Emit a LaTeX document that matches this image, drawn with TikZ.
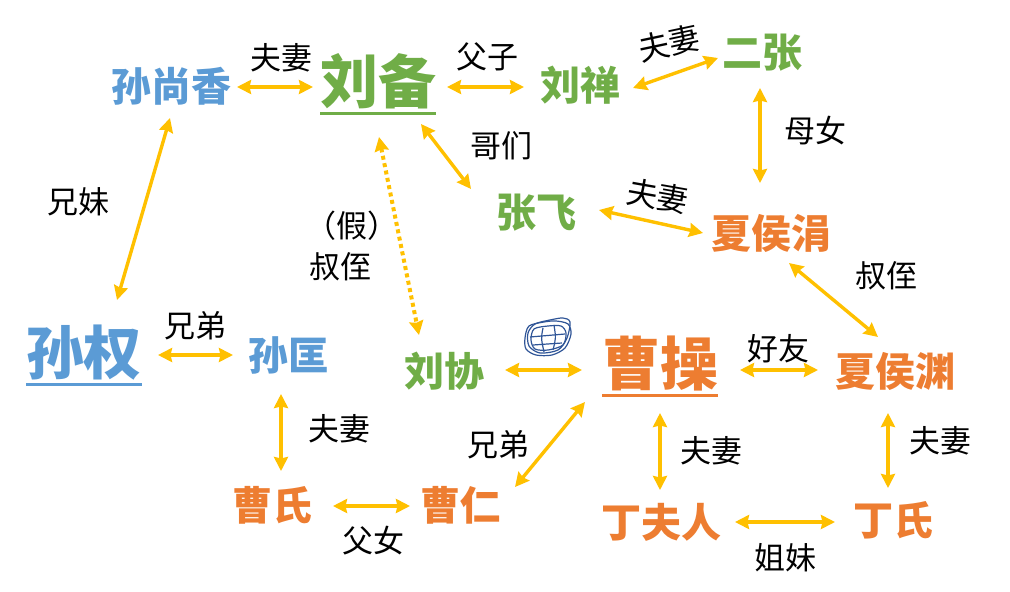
\documentclass[tikz,border=0pt]{standalone}
\usepackage{fontspec}
\usepackage{tikz}
\usetikzlibrary{arrows.meta}
\newfontfamily\cjk{Noto Sans CJK SC}
\definecolor{sun-blue}{HTML}{5B9BD5}
\definecolor{liu-green}{HTML}{70AD47}
\definecolor{cao-orange}{HTML}{ED7D31}
\definecolor{rel-gold}{HTML}{FFC000}
\definecolor{scribble-blue}{HTML}{2F5597}

\begin{document}
\begin{tikzpicture}[x=1pt,y=-1pt,
    person/.style={inner sep=0pt,outer sep=0pt,text height=33pt,text depth=3pt,
        font=\cjk\bfseries\fontsize{40}{40}\selectfont},
    bigperson/.style={person,text height=48pt,text depth=4pt,
        font=\cjk\bfseries\fontsize{58}{58}\selectfont},
    tag/.style={inner sep=0pt,text height=26.5pt,text depth=2.5pt,
        font=\cjk\fontsize{31}{31}\selectfont},
    rel/.style={rel-gold,line width=3.4pt,
        {Stealth[length=14pt,width=14pt,inset=1.5pt]}-{Stealth[length=14pt,width=14pt,inset=1.5pt]}},
    fake/.style={rel,line width=4pt,dash pattern=on 4pt off 3.5pt},
    underline/.style={line width=3pt},
    scribble/.style={scribble-blue,line width=1.2pt}]

    \useasboundingbox (0,0) rectangle (1010,592);

    %--- PEOPLE -----------------------------

    % Sun family
    \node[person,sun-blue] (ssx) at (171,86) {孙尚香};
    \node[bigperson,sun-blue] (sq) at (84,352) {孙权};
    \node[person,sun-blue] (sk) at (288,355) {孙匡};

    % Liu family
    \node[bigperson,liu-green] (lb) at (378,81) {刘备};
    \node[person,liu-green] (lc) at (580,85) {刘禅};
    \node[person,liu-green] (ez) at (762,52) {二张};
    \node[person,liu-green] (zf) at (536,212) {张飞};
    \node[person,liu-green] (lx) at (444,371) {刘协};

    % Cao family
    \node[person,cao-orange] (xhj) at (771,233) {夏侯涓};
    \node[bigperson,cao-orange] (cc) at (660,363) {曹操};
    \node[person,cao-orange] (xhy) at (895,371) {夏侯渊};
    \node[person,cao-orange] (cs) at (272,505) {曹氏};
    \node[person,cao-orange] (cr) at (460,505) {曹仁};
    \node[person,cao-orange] (dfr) at (661,522) {丁夫人};
    \node[person,cao-orange] (ds) at (893,520) {丁氏};

    % Underlines of the three lords
    \draw[underline,liu-green] ([yshift=-6pt]lb.south west) -- ([yshift=-6pt]lb.south east);
    \draw[underline,sun-blue] ([yshift=-6pt]sq.south west) -- ([yshift=-6pt]sq.south east);
    \draw[underline,cao-orange] ([yshift=-6pt]cc.south west) -- ([yshift=-6pt]cc.south east);

    %--- RELATIONS --------------------------

    \draw[rel] ([shift={(6,1)}]ssx.east) -- ([shift={(-7,6)}]lb.west);
    \draw[rel] ([shift={(11,6)}]lb.east) -- ([shift={(-16,2)}]lc.west);
    \draw[rel] ([shift={(13,3)}]lc.east) -- ([shift={(-4,6)}]ez.west);
    \draw[rel] ([shift={(-2,18)}]ez.south) -- ([shift={(-11,-32)}]xhj.north);
    \draw[rel] ([shift={(43,17)}]lb.south) -- ([shift={(-25,-5)}]zf.north west);
    \draw[rel] ([shift={(23,-2)}]zf.east) -- ([shift={(-8,0)}]xhj.west);
    \draw[rel] ([shift={(18,12)}]xhj.south) -- ([shift={(-17,-16)}]xhy.north);
    \draw[rel] ([shift={(-1,14)}]ssx.south) -- ([shift={(33,-26)}]sq.north);
    \draw[fake] ([shift={(1,30)}]lb.south) -- ([shift={(-25,-18)}]lx.north);
    \draw[rel] ([shift={(16,3)}]sq.east) -- ([shift={(-15,0)}]sk.west);
    \draw[rel] ([shift={(-7,21)}]sk.south) -- ([shift={(9,-16)}]cs.north);
    \draw[rel] ([shift={(21,1)}]cs.east) -- ([shift={(-10,1)}]cr.west);
    \draw[rel] ([shift={(15,0)}]cr.north east) -- ([shift={(-17,13)}]cc.south west);
    \draw[rel] ([shift={(21,-1)}]lx.east) -- ([shift={(-20,7)}]cc.west);
    \draw[rel] ([shift={(22,7)}]cc.east) -- ([shift={(-17,-1)}]xhy.west);
    \draw[rel] ([shift={(0,24)}]cc.south) -- ([shift={(-1,-14)}]dfr.north);
    \draw[rel] ([shift={(-7,24)}]xhy.south) -- ([shift={(-5,-14)}]ds.north);
    \draw[rel] ([shift={(14,0)}]dfr.east) -- ([shift={(-18,2)}]ds.west);

    %--- LABELS -----------------------------

    \node[tag] (t-ssx-lb) at (281,57) {夫妻};
    \node[tag] (t-lb-lc) at (487,56) {父子};
    \node[tag,rotate=12] (t-lc-ez) at (669,43) {夫妻};
    \node[tag] (t-ez-xhj) at (815,130) {母女};
    \node[tag] (t-lb-zf) at (501,145) {哥们};
    \node[tag,rotate=-10] (t-zf-xhj) at (658,196) {夫妻};
    \node[tag] (t-xhj-xhy) at (886,275) {叔侄};
    \node[tag] (t-ssx-sq) at (78,201) {兄妹};
    \node[tag] (t-lb-lx1) at (352,225) {（假）};
    \node[tag] (t-lb-lx2) at (340,266) {叔侄};
    \node[tag] (t-sq-sk) at (195,325) {兄弟};
    \node[tag] (t-sk-cs) at (339,428) {夫妻};
    \node[tag] (t-cs-cr) at (373,540) {父女};
    \node[tag] (t-cr-cc) at (498,444) {兄弟};
    \node[tag] (t-cc-xhy) at (778,348) {好友};
    \node[tag] (t-cc-dfr) at (711,450) {夫妻};
    \node[tag] (t-xhy-ds) at (940,440) {夫妻};
    \node[tag] (t-dfr-ds) at (785,557) {姐妹};

    %--- SCRIBBLE ---------------------------

    \draw[scribble] plot[smooth cycle] coordinates {(525,338) (529,326) (544,322) (556,321) (568,324) (571,334) (565,348) (552,355) (536,355) (526,349)};
    \draw[scribble] plot[smooth cycle] coordinates {(528,333) (535,324) (550,320) (563,318) (570,322) (567,338) (558,350) (540,353) (529,346)};
    \draw[scribble] plot[smooth cycle] coordinates {(531,340) (534,329) (548,326) (561,326) (566,333) (563,345) (548,350) (535,349)};
    \draw[scribble] (530,337) -- (565,334);
    \draw[scribble] (533,345) -- (562,343);
    \draw[scribble] (543,328) .. controls (541,338) .. (544,352);
    \draw[scribble] (554,325) .. controls (556,338) .. (553,350);

\end{tikzpicture}
\end{document}
